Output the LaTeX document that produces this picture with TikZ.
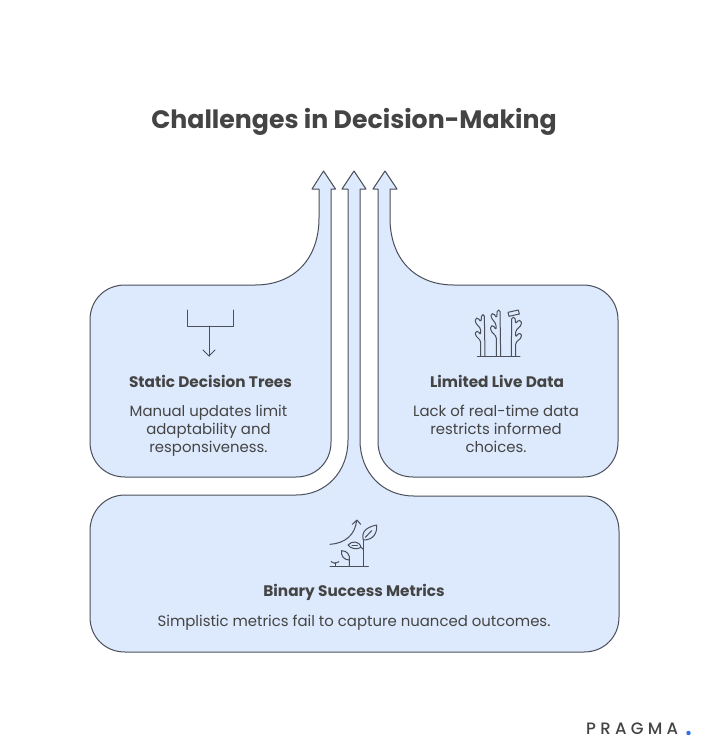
\documentclass[tikz,border=0pt]{standalone}
\usepackage{fontspec}
\setmainfont{Poppins}
\newfontfamily\logofont[LetterSpace=26]{Poppins Medium}
\definecolor{panel}{HTML}{DDE9FC}
\definecolor{edge}{HTML}{4A4F5A}
\definecolor{ink}{HTML}{444444}
\definecolor{dotblue}{HTML}{2F6FE0}
\tikzset{
  x=1pt,y=-1pt,
  panelshape/.style={fill=panel,draw=edge,line width=1pt,line join=round},
  icon/.style={draw=edge,line width=1pt,line join=round,line cap=round},
  titletext/.style={text=ink,font=\fontsize{25.2}{30}\selectfont\bfseries,inner sep=0pt},
  headtext/.style={text=ink,font=\fontsize{15.3}{18}\selectfont\bfseries,inner sep=0pt},
  bodytext/.style={text=ink,font=\fontsize{14.9}{18}\selectfont,inner sep=0pt,align=center},
}
\begin{document}
\begin{tikzpicture}
\useasboundingbox (0,0) rectangle (710,756);
\fill[white] (0,0) rectangle (710,756);
% left panel with arrow
\draw[panelshape] (323.5,171) -- (335.5,189) -- (331,189) -- (331,442)
  .. controls (331,462) and (316,477) .. (296,477) -- (125,477)
  .. controls (105,477) and (90,462) .. (90,442) -- (90,320)
  .. controls (90,300) and (105,285) .. (125,285) -- (255,285)
  .. controls (295,285) and (319,258) .. (319,218) -- (319,189) -- (312,189) -- cycle;
% right panel with arrow
\draw[panelshape] (385,171) -- (397,189) -- (390,189) -- (390,218)
  .. controls (390,258) and (414,285) .. (454,285) -- (583,285)
  .. controls (603,285) and (618,300) .. (618,320) -- (618,442)
  .. controls (618,462) and (603,477) .. (583,477) -- (413,477)
  .. controls (393,477) and (378,462) .. (378,442) -- (378,189) -- (373,189) -- cycle;
% bottom panel with arrow
\draw[panelshape] (354,171) -- (366,189) -- (360,189) -- (360,440)
  .. controls (360,472) and (382,496) .. (414,496) -- (584,496)
  .. controls (604,496) and (619,511) .. (619,531) -- (619,617)
  .. controls (619,637) and (604,652) .. (584,652) -- (125,652)
  .. controls (105,652) and (90,637) .. (90,617) -- (90,531)
  .. controls (90,511) and (105,495) .. (125,495) -- (296,495)
  .. controls (326,495) and (348,472) .. (348,440) -- (348,189) -- (342,189) -- cycle;
% texts
\node[titletext] (title) at (354,122) {Challenges in Decision-Making};
\node[headtext] (h1) at (210.5,381) {Static Decision Trees};
\node[bodytext] (b1) at (208.5,431) {Manual updates limit\\adaptability and\\responsiveness.};
\node[headtext] (h2) at (497,381) {Limited Live Data};
\node[bodytext] (b2) at (496,429) {Lack of real-time data\\restricts informed\\choices.};
\node[headtext] (h3) at (354,592) {Binary Success Metrics};
\node[bodytext] (b3) at (354,623) {Simplistic metrics fail to capture nuanced outcomes.};
% icon: decision tree
\draw[icon] (187,310) -- (187,326) -- (233,326) -- (233,310);
\draw[icon] (209,326) -- (209,356);
\draw[icon] (203,350) -- (209,356) -- (215,350);
% icon: trees
\begin{scope}[shift={(465,300)},x=0.3333pt,y=-0.3333pt]
\draw[icon] (37,168) -- (165,168);
\draw[icon,rounded corners=1.5pt] (47,168) -- (47,122) -- (31,106) -- (31,95) -- (39,93) -- (47,105) -- (47,86) -- (31,68) -- (31,56) -- (38,53) -- (48,66) -- (50,44) -- (58,44) -- (60,168);
\draw[icon,rounded corners=1.5pt] (94,168) -- (94,110) -- (77,92) -- (77,78) -- (85,76) -- (93,90) -- (93,72) -- (78,52) -- (78,42) -- (86,40) -- (95,54) -- (97,30) -- (105,30) -- (107,168);
\draw[icon,rounded corners=1.5pt] (152,168) -- (152,128) -- (170,112) -- (168,100) -- (160,100) -- (152,112) -- (152,92) -- (170,74) -- (168,62) -- (160,60) -- (152,72) -- (150,52) -- (140,52) -- (139,168);
\draw[icon] (129,37) -- (160,30) -- (163,42) -- (132,49) -- cycle;
\end{scope}
% icon: growth
\begin{scope}[shift={(320,510)},x=0.3333pt,y=-0.3333pt]
\draw[icon] (30,168) -- (145,168);
\draw[icon] (130,168) -- (130,90);
\draw[icon] (130,90) .. controls (122,62) and (145,50) .. (170,45) .. controls (172,70) and (160,90) .. (130,90);
\draw[icon] (136,82) -- (155,62);
\draw[icon] (130,118) -- (123,112) .. controls (110,120) and (92,116) .. (84,105) .. controls (95,92) and (118,92) .. (123,112);
\draw[icon] (96,106) -- (112,106);
\draw[icon] (88,168) -- (88,150) .. controls (72,150) and (62,138) .. (65,122) .. controls (80,122) and (92,135) .. (88,150);
\draw[icon] (45,168) -- (45,158);
\draw[icon] (33,155) -- (45,160) -- (57,155);
\draw[icon] (30,103) .. controls (75,100) and (105,75) .. (110,32);
\draw[icon] (97,43) -- (111,30) -- (122,43);
\end{scope}
% logo
\node[text=ink,font=\logofont\fontsize{16.5}{18}\selectfont,inner sep=0pt,anchor=west] (logo) at (586,729) {PRAGMA};
\fill[dotblue] (688.5,733) circle (2.2);
\end{tikzpicture}
\end{document}
